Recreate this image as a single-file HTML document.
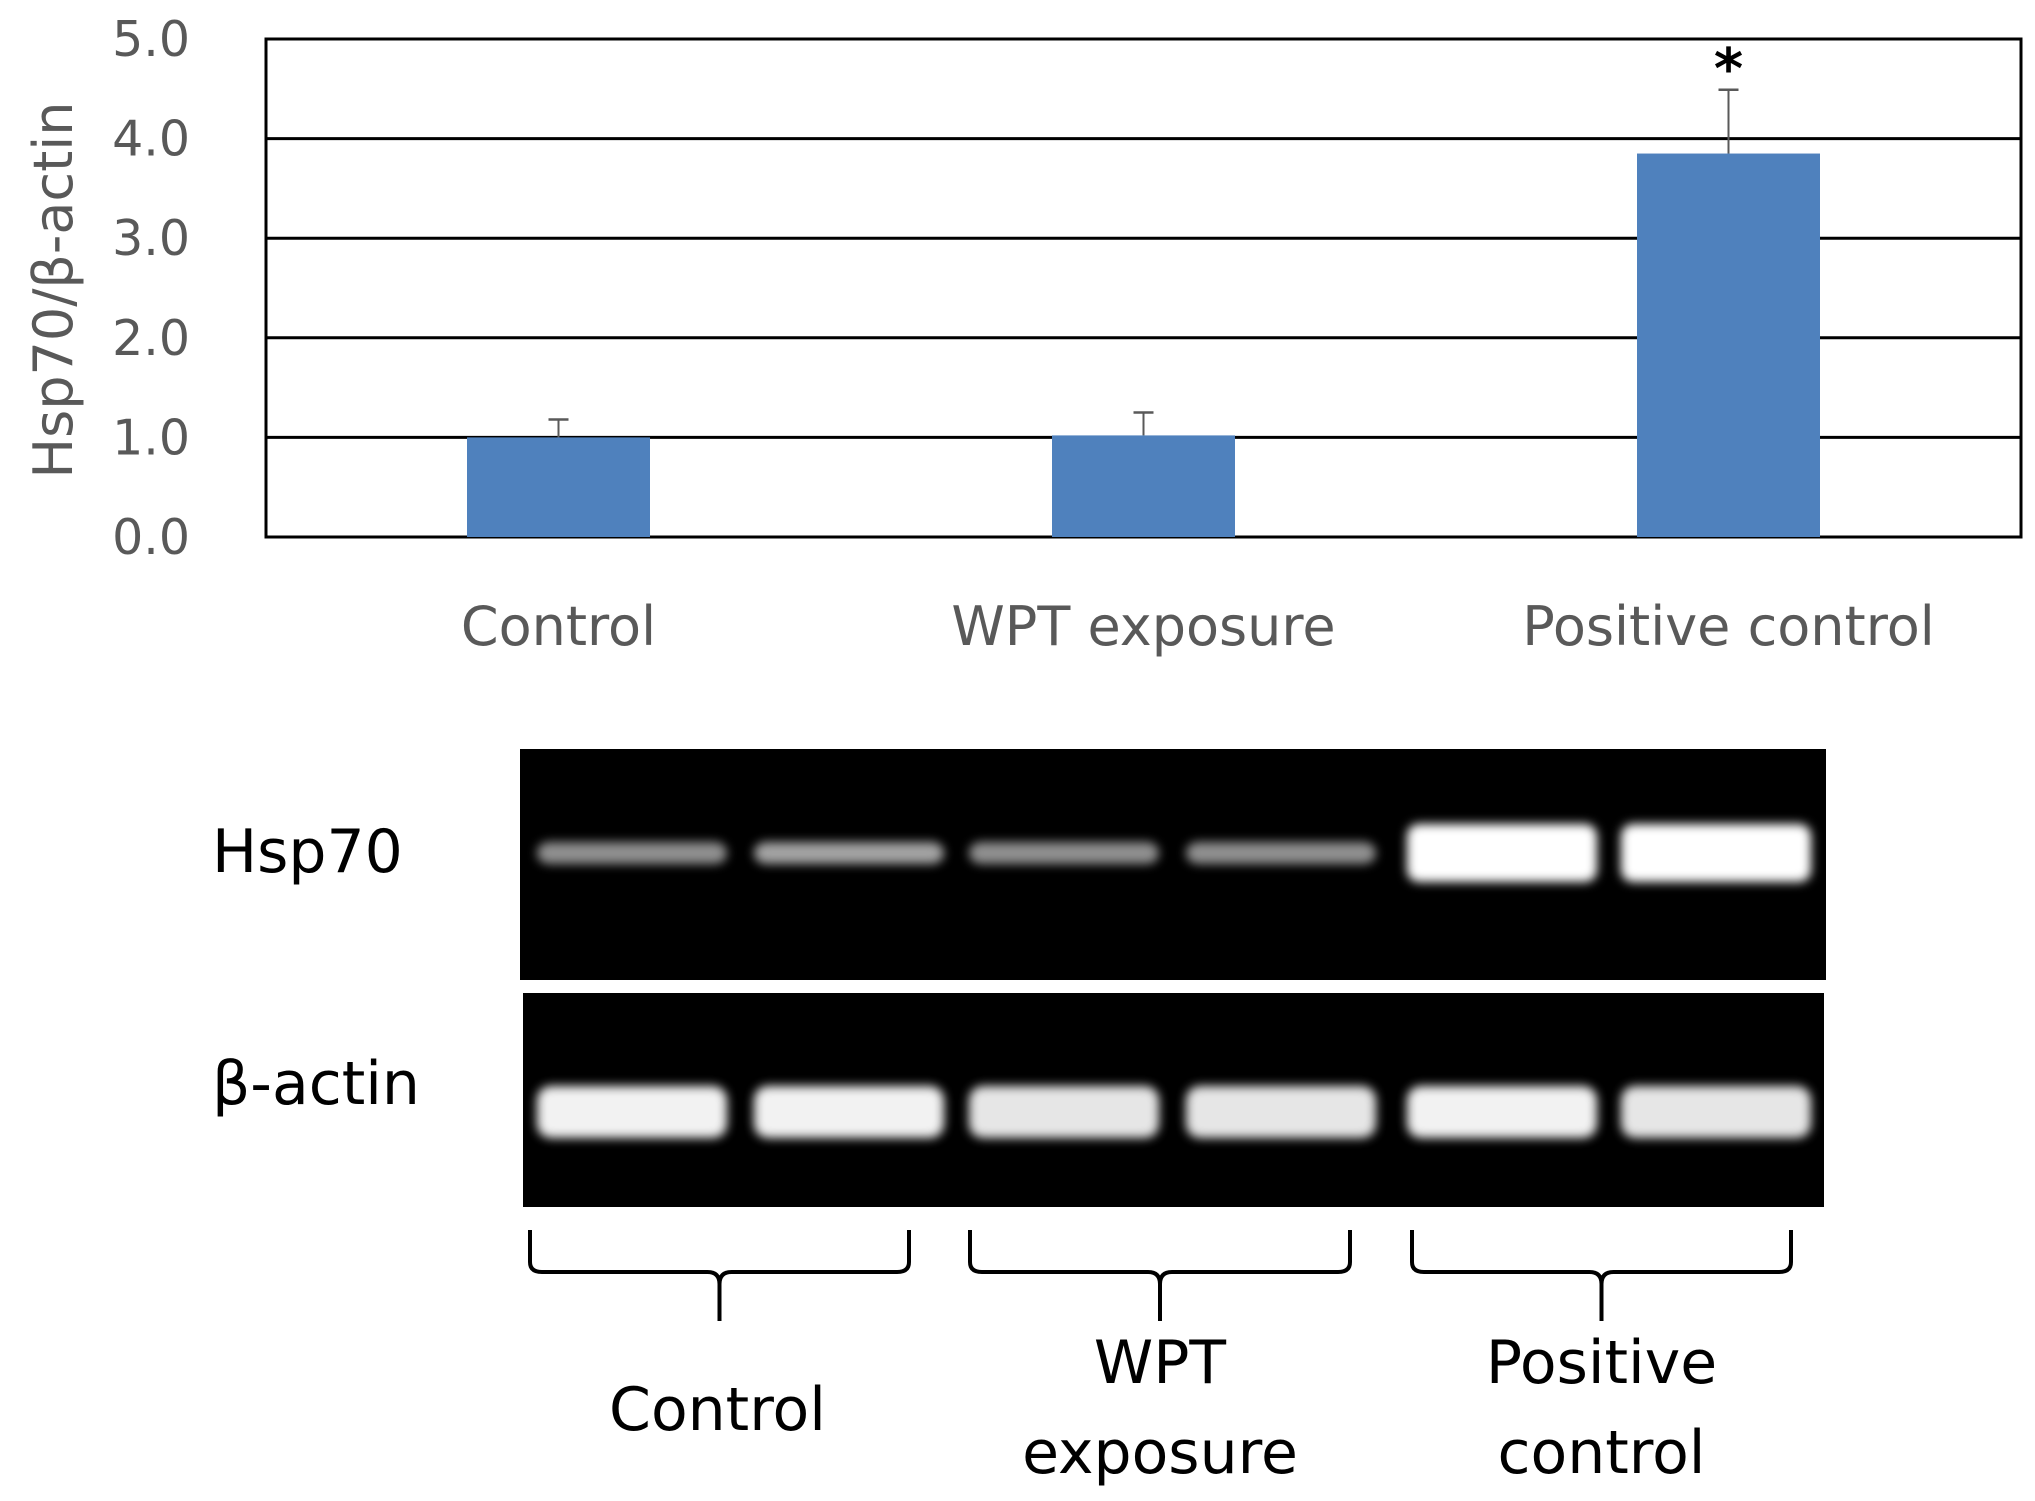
<!DOCTYPE html>
<html><head><meta charset="utf-8"><style>
html,body{margin:0;padding:0;background:#fff;}
svg{display:block;font-family:"DejaVu Sans","Liberation Sans",sans-serif;}
</style></head><body>
<svg id="fig" width="2035" height="1501" viewBox="0 0 2035 1501">
<defs>
<filter id="blur" x="-20%" y="-50%" width="140%" height="200%"><feGaussianBlur stdDeviation="5"/></filter>
</defs>
<g id="chart"></g>
<g id="blot"></g>
</svg>
<script>
const categories = ["Control", "WPT exposure", "Positive control"];
const values = [1.0, 1.02, 3.85];
const errors = [0.18, 0.23, 0.64];
const yTicks = [0, 1, 2, 3, 4, 5];
const yTickLabels = ["0.0", "1.0", "2.0", "3.0", "4.0", "5.0"];
const significant = [false, false, true];
const hspIntensity = [0.35, 0.4, 0.35, 0.35, 1.0, 1.0];
const actinIntensity = [1.0, 1.0, 0.95, 0.95, 1.0, 0.95];

const NS = "http://www.w3.org/2000/svg";
function mk(tag, attrs, parent, text){
  const e = document.createElementNS(NS, tag);
  for (const k in attrs) e.setAttribute(k, attrs[k]);
  if (text !== undefined) e.textContent = text;
  parent.appendChild(e);
  return e;
}
const chart = document.getElementById("chart");
const L = 266, R = 2021, T = 39, B = 537;
const yMax = 5;
const y = v => B - (v / yMax) * (B - T);
const band = (R - L) / categories.length;
const x = i => L + band * (i + 0.5);
const barW = 183;

const frame = mk("rect", {x:L, y:T, width:R-L, height:B-T, fill:"none", stroke:"#000", "stroke-width":3}, chart);



yTicks.forEach((t, i) => {
  const g = mk("line", {x1:L, x2:R, y1:y(t), y2:y(t), stroke:"#000", "stroke-width":3}, chart);
  
  
  const lb = mk("text", {x:190, y:y(t)+17, "text-anchor":"end", "font-size":49, fill:"#595959"}, chart, yTickLabels[i]);
  
  
});

const yt = mk("text", {x:0, y:0, transform:"translate(72,290) rotate(-90)", "text-anchor":"middle", "font-size":54, fill:"#595959"}, chart, "Hsp70/β-actin");



categories.forEach((c, i) => {
  const cx = x(i);
  const eTop = y(values[i] + errors[i]);
  const el = mk("line", {x1:cx, x2:cx, y1:y(values[i]), y2:eTop, stroke:"#595959", "stroke-width":2}, chart);
  
  
  const cap = mk("line", {x1:cx-10, x2:cx+10, y1:eTop, y2:eTop, stroke:"#595959", "stroke-width":2.5}, chart);
  
  
  const b = mk("rect", {x:cx-barW/2, y:y(values[i]), width:barW, height:B-y(values[i]), fill:"#4f81bd"}, chart);
  
  
  const xl = mk("text", {x:cx, y:645, "text-anchor":"middle", "font-size":54, fill:"#595959"}, chart, c);
  
  
  if (significant[i]) {
    const s = mk("text", {x:cx, y:eTop-2, "text-anchor":"middle", "font-size":56, "font-weight":"bold", fill:"#000"}, chart, "*");
    
    
  }
});

const blot = document.getElementById("blot");
const p1 = mk("rect", {x:520, y:749, width:1306, height:231, fill:"#000"}, blot);


const p2 = mk("rect", {x:523, y:993, width:1301, height:214, fill:"#000"}, blot);


const laneX = [632, 849, 1064, 1281, 1502, 1716];
const laneW = 190;
hspIntensity.forEach((v, i) => {
  const h = v > 0.8 ? 58 : 22;
  const r = mk("rect", {x:laneX[i]-laneW/2, y:853-h/2, width:laneW, height:h, rx:12, fill:"#fff", opacity:Math.min(1, v*1.6), filter:"url(#blur)"}, blot);
  
  
});
actinIntensity.forEach((v, i) => {
  const r = mk("rect", {x:laneX[i]-laneW/2, y:1086, width:laneW, height:52, rx:14, fill:"#fff", opacity:v*0.95, filter:"url(#blur)"}, blot);
  
  
});
const l1 = mk("text", {x:212, y:872, "font-size":60, fill:"#000"}, blot, "Hsp70");


const l2 = mk("text", {x:212, y:1104, "font-size":60, fill:"#000"}, blot, "β-actin");



const brackets = [[530, 909], [970, 1350], [1412, 1791]];
const groupLabels = [["Control"], ["WPT", "exposure"], ["Positive", "control"]];
brackets.forEach((br, i) => {
  const [a, b] = br, m = (a + b) / 2;
  const d = `M${a},1230 L${a},1262 Q${a},1272 ${a+12},1272 L${m-12},1272 Q${m},1272 ${m},1284 L${m},1321 M${m},1284 Q${m},1272 ${m+12},1272 L${b-12},1272 Q${b},1272 ${b},1262 L${b},1230`;
  const p = mk("path", {d:d, fill:"none", stroke:"#000", "stroke-width":4}, blot);
  
  
  const lines = groupLabels[i];
  lines.forEach((t, j) => {
    const yy = lines.length === 1 ? 1430 : 1383 + j * 90;
    const tx = mk("text", {x:m + (i===0?-2:0), y:yy, "text-anchor":"middle", "font-size":60, fill:"#000"}, blot, t);
    
    
  });
});
</script>
</body></html>
